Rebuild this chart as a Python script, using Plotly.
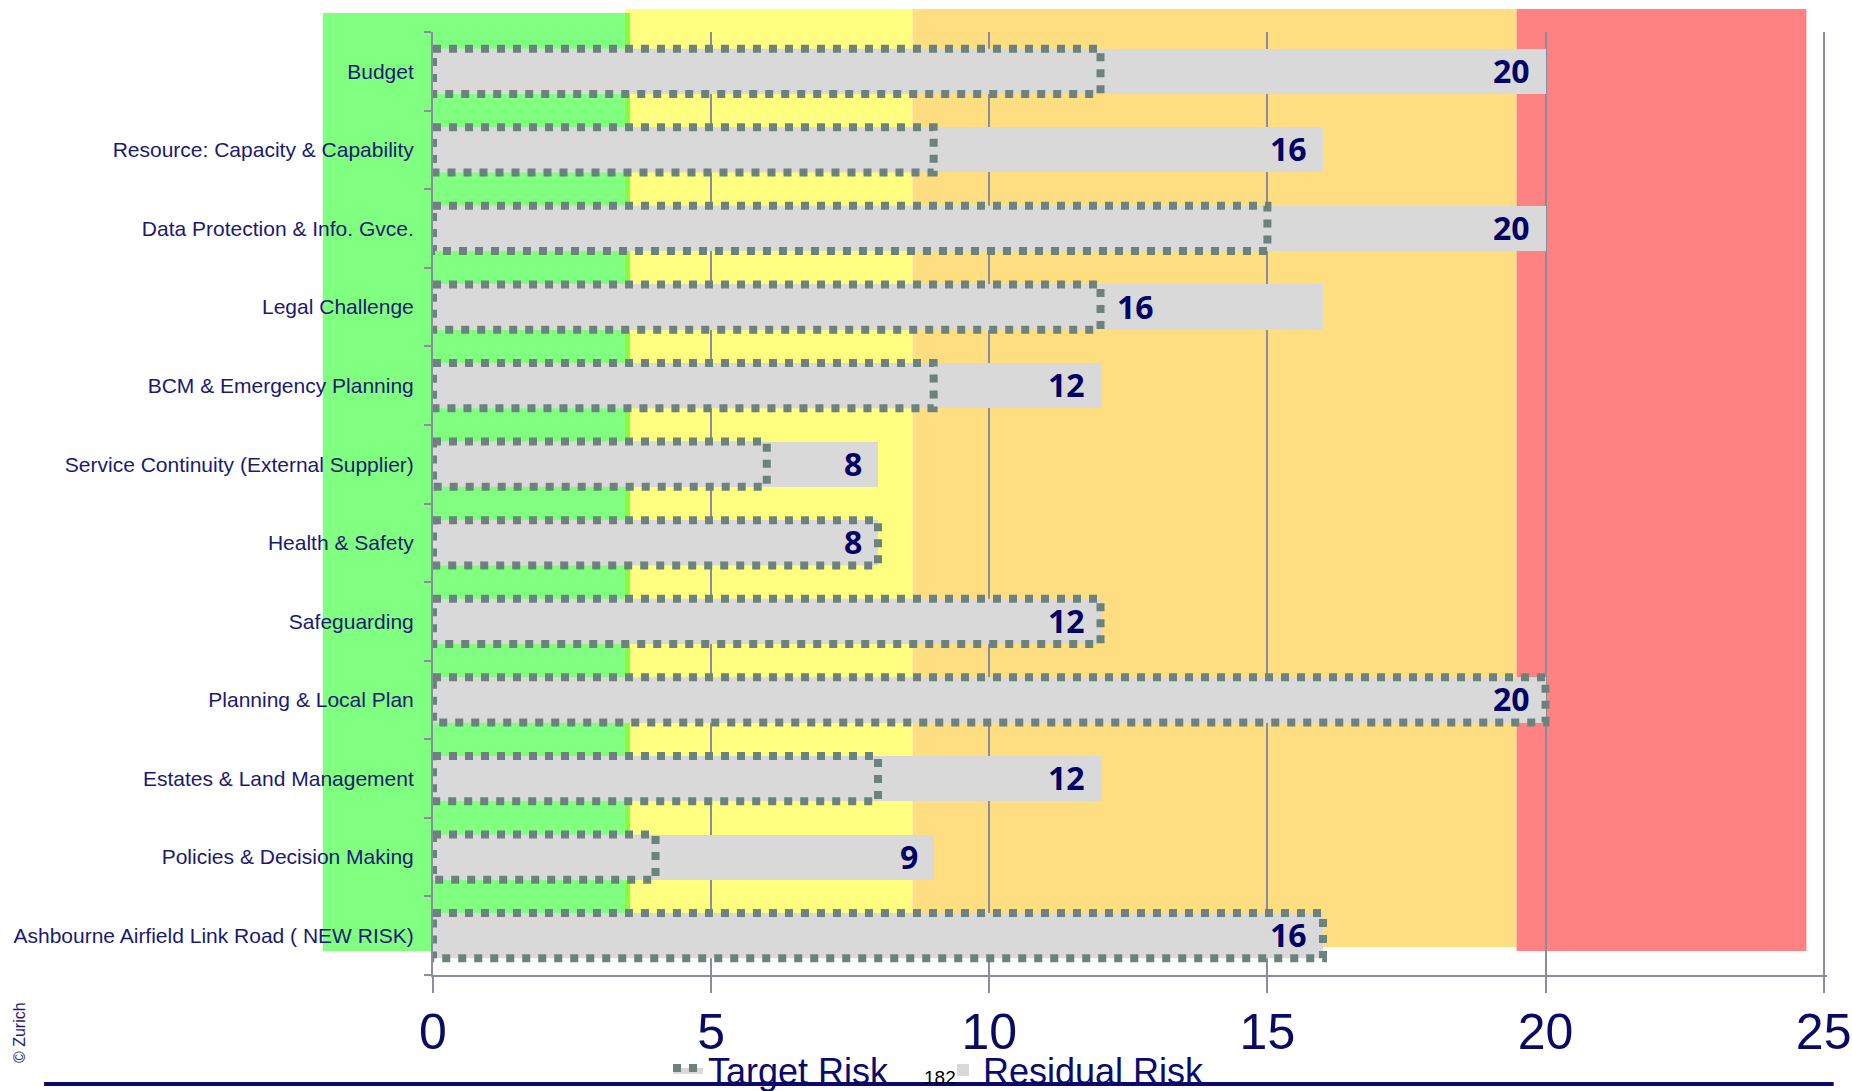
import plotly.graph_objects as go

# ---------------- data ----------------
categories = [
    "Budget",
    "Resource: Capacity & Capability",
    "Data Protection & Info. Gvce.",
    "Legal Challenge",
    "BCM & Emergency Planning",
    "Service Continuity (External Supplier)",
    "Health & Safety",
    "Safeguarding",
    "Planning & Local Plan",
    "Estates & Land Management",
    "Policies & Decision Making",
    "Ashbourne Airfield Link Road ( NEW RISK)",
]
residual_risk = [20, 16, 20, 16, 12, 8, 8, 12, 20, 12, 9, 16]
target_risk = [12, 9, 15, 12, 9, 6, 8, 12, 20, 8, 4, 16]
label_after_target = [False, False, False, True, False, False,
                      False, False, False, False, False, False]
x_ticks = [0, 5, 10, 15, 20, 25]
zone_edges = [-1.98, 3.45, 8.62, 19.48, 24.69]
zone_colors = ["#80FF80", "#FFFF80", "#FFDE82", "#FF8282"]

# ---------------- layout geometry ----------------
W, H = 1852, 1091
XMAX = 25.06          # small headroom so the gridline at 25 is kept
X0_PX, X25_PX = 433, 1824
UNIT = (X25_PX - X0_PX) / 25.0
ML = X0_PX
PW = UNIT * XMAX
MR = W - ML - PW
MT, MB = 32, 1091 - 975
PH = H - MT - MB


def py(p):  # pixel y -> paper y
    return (H - MB - p) / PH


def pxx(p):  # pixel x -> paper x
    return (p - ML) / PW


def dx(v):  # data x -> paper x
    return v / XMAX


idx = list(range(len(categories)))
half = 0.2875

fig = go.Figure()

fig.add_trace(go.Bar(
    y=idx, x=residual_risk, orientation="h", width=2 * half,
    marker=dict(color="#D9D9D9", line=dict(width=0)),
    name="Residual Risk", legendrank=2, hoverinfo="x",
))

tx, ty = [], []
for i, t in enumerate(target_risk):
    tx += [0, t, t, 0, 0, None]
    ty += [i - half, i - half, i + half, i + half, i - half, None]
fig.add_trace(go.Scatter(
    x=tx, y=ty, mode="lines", fill="toself", fillcolor="#D9D9D9",
    line=dict(color="#6C827C", width=8, dash="dot"),
    name="Target Risk", legendrank=1, hoverinfo="skip",
))

# risk zones
zone_tops = [13, 9, 9, 9]
zone_bottoms = [951, 947, 947, 951]
shapes = []
for k, col in enumerate(zone_colors):
    shapes.append(dict(type="rect", xref="paper", yref="paper",
                       x0=dx(zone_edges[k]), x1=dx(zone_edges[k + 1]),
                       y0=py(zone_bottoms[k]), y1=py(zone_tops[k]),
                       fillcolor=col, line=dict(width=0), layer="below"))
# thin transition strip green/yellow
shapes.append(dict(type="rect", xref="paper", yref="paper",
                   x0=dx(zone_edges[1]), x1=dx(zone_edges[1]) + 5 / PW,
                   y0=py(951), y1=py(13),
                   fillcolor="#80FF40", line=dict(width=0), layer="below"))
# page footer line
shapes.append(dict(type="line", xref="paper", yref="paper",
                   x0=pxx(44), x1=pxx(1834), y0=py(1084), y1=py(1084),
                   line=dict(color="#0A0A6E", width=4), layer="below"))

annotations = []
for i in idx:
    if label_after_target[i]:
        annotations.append(dict(x=target_risk[i], y=i, xref="x", yref="y",
                                text=str(residual_risk[i]), showarrow=False,
                                xanchor="left", yanchor="middle", xshift=14,
                                yshift=1))
    else:
        annotations.append(dict(x=residual_risk[i], y=i, xref="x", yref="y",
                                text=str(residual_risk[i]), showarrow=False,
                                xanchor="right", yanchor="middle", xshift=-14,
                                yshift=1))
for a in annotations:
    a["font"] = dict(family="Open Sans, Noto Sans, DejaVu Sans", size=32,
                     color="#000066", weight="bold")

annotations.append(dict(x=pxx(940), y=py(1077), xref="paper", yref="paper",
                        text="182", showarrow=False, xanchor="center",
                        yanchor="middle",
                        font=dict(family="Liberation Sans, Arial", size=19,
                                  color="#000000")))
annotations.append(dict(x=pxx(19), y=py(1033), xref="paper", yref="paper",
                        text="© Zurich", showarrow=False, textangle=-90,
                        xanchor="center", yanchor="middle",
                        font=dict(family="Liberation Sans, Arial", size=16,
                                  color="#1A1A7A")))

axis_col = "#8C8CA0"

fig.update_layout(
    width=W, height=H, autosize=False,
    margin=dict(l=ML, r=MR, t=MT, b=MB, pad=0, autoexpand=False),
    paper_bgcolor="white", plot_bgcolor="rgba(0,0,0,0)",
    barmode="overlay", bargap=0,
    shapes=shapes, annotations=annotations,
    showlegend=True,
    legend=dict(orientation="h", xref="container", yref="container",
                x=668 / W, xanchor="left",
                y=(H - 1070) / H, yanchor="middle",
                bgcolor="rgba(0,0,0,0)", borderwidth=0,
                font=dict(family="Liberation Sans, Arial", size=36,
                          color="#0A0A6E"),
                entrywidth=230, entrywidthmode="pixels"),
    xaxis=dict(range=[0, XMAX], tickmode="array", tickvals=x_ticks,
               ticktext=[str(v) for v in x_ticks], automargin=False,
               showgrid=True, gridcolor=axis_col, gridwidth=2,
               showline=True, linecolor=axis_col, linewidth=2,
               ticks="outside", ticklen=16, tickwidth=2, tickcolor=axis_col,
               zeroline=False, ticklabelstandoff=-4,
               ticklabeloverflow="allow",
               tickfont=dict(family="Liberation Sans, Arial",
                             size=50, color="#0A0A64")),
    yaxis=dict(range=[len(categories) - 0.5, -0.5], tickmode="array",
               tickvals=idx, ticktext=categories, ticks="",
               showgrid=False, zeroline=False, automargin=False,
               showline=True, linecolor=axis_col, linewidth=2,
               ticklabelstandoff=13, ticklabeloverflow="allow",
               minor=dict(tickmode="array",
                          tickvals=[i - 0.5 for i in range(len(categories) + 1)],
                          ticks="outside", ticklen=7, tickwidth=2,
                          tickcolor=axis_col, showgrid=False),
               tickfont=dict(family="Liberation Sans, Arial", size=21,
                             color="#1A1A72")),
)

fig.write_html("out.html")
